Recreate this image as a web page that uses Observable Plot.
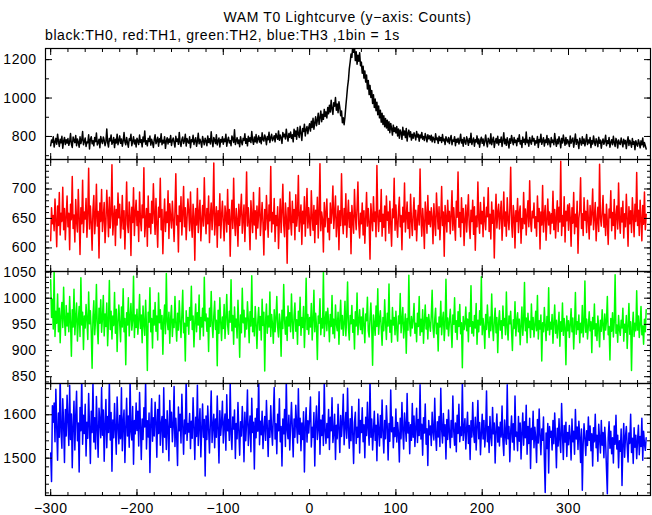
<!DOCTYPE html>
<html><head><meta charset="utf-8">
<script src="https://cdn.jsdelivr.net/npm/d3@7"></script>
<script src="https://cdn.jsdelivr.net/npm/@observablehq/plot@0.6"></script>
<style>
body{margin:0;background:#fff;}
#wrap{position:relative;width:652px;height:515px;overflow:hidden;font-family:"Liberation Sans",Arial,sans-serif;color:#000;}
#title{position:absolute;left:45px;width:605px;top:9px;text-align:center;font-size:14px;line-height:16px;letter-spacing:0.6px;white-space:nowrap;}
#sub{position:absolute;left:45px;top:27px;font-size:14px;line-height:16px;letter-spacing:0.6px;white-space:nowrap;}
</style></head><body>
<div id="wrap">
<div id="title">WAM T0 Lightcurve (y−axis: Counts)</div>
<div id="sub">black:TH0, red:TH1, green:TH2, blue:TH3 ,1bin = 1s</div>
</div>
<script>
// time bins: start -300 s, 1 s per bin
const tStart = -300;
const binSize = 1;

// TH0 (black) counts per 1 s bin
const th0 = [
752,781,769,798,745,771,790,760,812,774,748,785,767,801,739,776,795,758,783,766,
789,754,772,815,761,743,797,779,768,805,752,787,770,744,798,763,781,826,757,774,
792,748,771,767,809,735,784,799,762,778,751,794,773,818,756,769,786,741,800,775,
763,797,780,752,773,839,768,745,790,777,808,759,771,794,742,785,766,812,757,779,
803,764,787,749,776,820,771,757,795,768,744,788,779,811,752,773,798,761,782,745,
791,776,758,807,769,783,746,797,772,829,760,778,751,790,774,802,755,785,767,743,
784,809,762,775,796,749,788,771,814,757,780,766,799,738,776,793,761,787,770,805,
753,779,792,768,745,801,774,787,759,821,770,748,784,797,763,776,811,750,789,772,
765,798,741,783,772,806,758,779,793,749,775,817,762,786,770,744,800,777,757,791,
776,752,803,769,788,761,824,774,747,795,780,763,809,756,778,792,745,784,771,798,
760,787,773,812,749,781,796,766,778,752,803,788,769,835,758,777,794,763,782,747,
799,772,757,790,779,814,764,788,751,801,775,793,768,826,780,759,797,772,810,766,
788,803,771,795,762,819,784,776,808,791,757,800,783,822,769,794,811,778,789,804,
772,816,798,785,829,780,807,793,764,821,799,812,787,838,801,776,815,796,823,790,
809,772,838,801,829,786,847,812,795,853,818,779,841,826,864,803,837,852,814,846,
866,828,879,847,895,838,871,902,856,884,921,863,898,932,877,915,889,941,904,928,
896,951,918,963,927,989,942,915,976,958,1003,937,969,924,981,952,908,933,872,897,
861,902,958,1007,1058,1093,1152,1187,1229,1212,1270,1238,1266,1195,1241,1176,1223,1192,1236,1168,
1187,1129,1165,1104,1141,1083,1120,1047,1092,1018,1066,1003,1039,972,1017,951,995,934,978,913,
958,897,936,874,921,862,908,851,893,844,885,832,876,819,868,841,807,859,826,845,
818,852,803,839,791,834,821,785,848,807,829,794,842,776,817,833,798,824,781,811,
791,819,804,782,826,797,812,775,808,793,821,786,800,779,815,796,772,809,788,803,
781,806,772,797,788,768,814,783,792,764,801,779,795,769,810,777,786,758,799,782,
771,794,763,788,805,757,782,775,799,752,786,770,791,761,778,812,766,784,749,795,
773,760,798,781,754,789,768,817,758,777,792,749,783,771,803,762,787,744,779,796,
764,787,752,775,808,769,746,791,778,762,814,757,780,796,743,772,789,765,801,756,
783,770,797,748,778,819,762,786,754,793,771,740,788,765,805,779,757,794,768,781,
752,790,774,809,761,779,743,797,770,785,758,823,767,781,749,795,772,760,802,776,
789,755,778,766,800,743,784,771,812,759,776,793,750,782,768,805,757,788,773,746,
794,768,781,757,815,773,749,786,762,799,775,741,790,766,807,778,754,795,761,783,
770,748,802,765,779,792,744,776,813,759,784,769,737,791,772,755,798,763,787,751,
776,810,758,782,766,795,742,779,761,803,770,753,788,774,747,796,765,781,739,772,
787,759,774,806,752,778,763,795,744,769,783,757,801,767,748,790,775,740,782,764,
758,792,771,746,785,762,779,737,774,798,753,780,766,744,789,759,773,731,778,760,
749,783,765,741,777,757,792,745,768,752,735
];

// TH1 (red)
const th1 = [
612,668,641,655,629,683,647,602,671,638,694,622,659,645,703,631,667,614,652,688,
636,659,597,674,648,721,633,656,610,682,645,627,699,652,589,668,641,715,626,661,
649,684,618,657,735,632,671,643,596,665,689,624,651,708,637,662,583,676,645,699,
628,653,677,609,642,698,661,619,686,634,657,741,622,648,671,604,665,639,693,651,
674,617,645,689,632,663,598,651,712,640,626,678,655,587,669,643,702,621,659,681,
638,662,611,695,647,629,673,651,736,619,644,667,603,688,635,658,624,679,642,709,
657,623,684,640,601,669,652,718,631,665,590,647,683,628,661,643,697,616,675,652,
634,679,648,611,662,726,639,655,593,671,645,687,622,657,704,636,668,614,649,683,
661,629,695,642,618,674,653,579,667,639,701,626,658,681,612,646,672,637,719,655,
624,667,641,688,609,653,676,631,659,744,622,648,670,601,663,638,692,617,654,679,
643,612,671,655,627,699,640,665,586,652,681,633,718,646,621,667,648,603,674,638,
662,691,625,649,673,611,656,729,637,668,642,597,680,653,626,694,639,663,615,671,
634,659,702,621,648,677,642,588,665,631,689,652,618,673,646,738,627,660,641,684,
611,655,638,670,599,647,683,626,661,708,640,619,676,653,574,668,632,695,645,622,
679,643,665,614,690,637,656,723,628,651,673,606,662,641,687,620,657,701,634,668,
645,621,697,652,630,672,609,664,640,686,617,655,743,629,661,648,593,677,636,659,
683,627,650,614,676,642,661,705,633,658,688,619,644,671,597,663,638,726,651,624,
667,639,692,618,653,681,635,660,590,672,646,625,699,655,631,668,712,640,617,659,
641,676,622,663,608,650,694,637,667,643,581,675,652,629,687,645,661,619,740,653,
628,664,645,699,620,657,635,671,612,688,647,661,625,679,642,603,666,651,718,630,
673,641,618,662,686,636,655,597,669,644,710,627,652,678,633,660,617,691,648,621,
657,685,631,664,612,648,672,639,734,653,620,667,643,599,678,656,625,689,640,662,
636,668,652,607,675,644,621,693,659,632,670,614,647,704,638,661,586,672,650,627,
681,645,662,624,656,697,630,668,641,613,679,652,729,635,660,619,685,643,667,604,
649,673,627,658,690,639,616,664,645,681,623,670,596,654,636,712,648,625,677,641,
662,619,686,647,631,669,653,702,628,657,615,678,642,664,583,650,691,634,659,674,
632,657,679,613,648,695,637,661,620,685,649,631,667,737,642,618,672,655,600,663,
645,684,626,659,671,608,650,633,694,641,666,622,657,680,636,714,645,628,662,651,
676,634,653,620,688,645,667,598,661,639,706,627,655,672,613,647,683,639,661,624,
658,642,696,631,665,617,652,680,628,669,644,747,621,655,637,687,610,662,646,673,
630,675,651,603,668,642,694,624,657,636,679,591,650,664,719,633,658,621,685,647,
662,626,681,648,615,672,639,659,700,631,653,677,612,645,669,628,742,650,637,661,
689,635,657,621,674,643,606,666,651,697,629,660,638,682,615,655,671,632,710,647,
625,668,644,679,617,658,636,691,649,603,670,641,663,626,685,652,619,674,645,728,
638,664,621,681,649,612,672,640,695,631,657
];

// TH2 (green)
const th2 = [
1035,963,998,941,1052,927,975,952,1008,936,981,915,967,992,944,1021,958,929,986,947,
971,936,1003,954,889,978,945,1017,930,962,991,918,956,984,927,1039,949,973,902,966,
943,988,959,921,1012,951,976,937,866,964,995,930,958,1026,944,913,981,952,997,935,
962,1005,928,970,946,991,909,957,1034,940,975,922,966,948,1011,933,979,898,955,987,
950,917,983,945,1018,936,961,873,972,949,1001,928,964,990,939,957,1042,925,968,944,
979,931,958,1007,942,968,915,985,951,929,996,947,862,973,954,1020,936,961,905,977,
949,992,937,966,920,1010,953,978,941,967,893,959,987,932,1047,955,940,973,914,962,
986,927,960,944,1003,951,918,971,939,995,956,925,968,1015,934,952,880,976,947,963,
931,982,958,1023,940,966,907,954,989,936,972,949,1006,921,963,945,981,928,1040,957,
970,937,962,898,981,946,1013,952,925,966,994,940,958,871,977,933,1001,955,919,964,
942,988,923,961,1007,949,931,975,954,1035,938,967,912,983,945,960,924,996,951,887,
968,934,1019,953,977,926,962,941,993,958,915,974,947,1043,936,961,928,984,952,904,
957,982,939,965,920,998,948,973,861,956,989,933,966,945,1012,927,969,950,914,978,
936,961,1003,944,926,970,953,889,977,942,1026,958,931,964,919,985,947,972,936,1008,
954,923,966,991,937,959,912,975,948,1002,929,963,944,984,906,957,1038,940,969,931,
963,945,990,920,958,1015,936,971,947,883,966,952,999,930,961,943,1049,927,955,974,
938,981,955,917,969,946,1005,932,960,924,987,951,938,973,912,958,996,941,967,929,
952,994,928,962,1031,943,920,967,951,986,935,959,903,974,947,1010,930,956,978,940,
964,932,981,949,915,970,957,1002,938,926,961,991,944,872,968,951,929,985,946,1018,
931,959,976,944,910,963,938,997,952,921,971,947,1027,935,958,916,982,949,963,930,
975,942,918,966,951,1009,934,957,982,924,948,970,895,961,939,1044,952,928,965,943,
958,990,933,952,917,971,946,1003,929,960,936,978,914,955,987,941,963,922,969,950,
937,966,1015,943,925,959,981,932,952,899,964,945,994,930,958,973,919,948,1036,941,
962,928,955,979,944,906,968,950,1001,935,957,921,974,946,988,932,953,867,965,940,
951,983,938,960,917,972,946,1024,933,955,928,967,943,990,912,958,936,976,949,1041,
930,961,945,904,969,940,987,953,925,964,938,1008,947,919,958,981,934,963,896,952,
976,939,957,923,985,948,961,930,1012,944,920,966,951,975,937,900,959,942,993,928,
955,972,936,960,911,947,983,929,954,1030,938,962,915,971,944,956,925,989,940,963,
926,949,975,938,1005,922,957,941,968,880,953,936,982,947,919,965,939,1020,930,954,
941,969,914,952,987,933,958,924,946,973,908,955,937,991,929,961,944,873,966,938,
957,925,949,980,936,962,903,947,1011,931,955,940,968,915,952,934,986,926,948,1033,
935,960,922,947,974,938,955,896,963,941,989,928,951,919,966,943,907,958,937,978,
948,921,970,939,956,1003,930,946,882,961,937,972,926,954,1045,933,949,916,967,940,
929,958,943,981,918,950,935,967,904,946,990,931,955,862,944,973,927,952,938,1014,
939,966,925,951,984,930,947,912,960,936,978
];

// TH3 (blue)
const th3 = [
1512,1446,1621,1583,1627,1538,1659,1572,1495,1604,1548,1688,1561,1523,1637,1579,1490,1612,1551,1645,
1587,1529,1668,1543,1602,1478,1575,1631,1519,1596,1654,1540,1581,1468,1617,1563,1690,1532,1599,1557,
1624,1505,1583,1546,1649,1571,1488,1608,1559,1676,1537,1593,1521,1642,1568,1502,1615,1584,1547,1663,
1553,1611,1493,1578,1635,1524,1596,1559,1681,1542,1605,1470,1588,1547,1626,1563,1509,1641,1574,1533,
1598,1545,1662,1517,1583,1611,1490,1569,1638,1551,1597,1525,1684,1560,1542,1619,1486,1587,1556,1627,
1564,1608,1528,1651,1575,1497,1590,1543,1616,1572,1678,1521,1586,1549,1604,1467,1580,1637,1539,1593,
1551,1629,1583,1502,1612,1557,1645,1530,1578,1596,1513,1662,1548,1589,1520,1609,1566,1494,1633,1571,
1606,1538,1574,1665,1527,1592,1550,1483,1618,1563,1601,1535,1647,1576,1509,1588,1556,1686,1541,1580,
1560,1603,1522,1585,1546,1639,1571,1497,1594,1550,1668,1529,1577,1614,1503,1566,1625,1548,1589,1459,
1597,1543,1620,1567,1512,1581,1655,1536,1573,1601,1524,1590,1548,1643,1565,1489,1609,1553,1582,1631,
1535,1578,1602,1518,1646,1563,1589,1541,1674,1556,1520,1595,1567,1611,1499,1580,1545,1628,1562,1507,
1584,1551,1619,1573,1492,1606,1540,1581,1657,1529,1568,1597,1515,1638,1559,1583,1475,1592,1547,1614,
1562,1689,1531,1585,1554,1608,1522,1569,1596,1541,1633,1571,1504,1587,1548,1621,1566,1530,1598,1663,
1544,1579,1510,1601,1563,1637,1538,1573,1482,1590,1556,1612,1527,1681,1564,1545,1599,1519,1575,1628,
1569,1503,1590,1548,1622,1576,1535,1660,1555,1592,1517,1581,1543,1607,1468,1572,1616,1537,1586,1558,
1593,1641,1526,1571,1548,1605,1482,1579,1620,1543,1567,1653,1509,1588,1552,1599,1529,1675,1561,1534,
1580,1547,1612,1520,1594,1563,1639,1536,1558,1601,1497,1576,1545,1624,1568,1513,1598,1550,1583,1647,
1531,1572,1605,1546,1661,1565,1523,1591,1540,1619,1557,1488,1582,1606,1534,1571,1548,1636,1512,1587,
1559,1616,1538,1577,1501,1594,1552,1629,1567,1530,1683,1548,1590,1519,1563,1608,1541,1576,1494,1602,
1566,1528,1598,1547,1634,1558,1512,1587,1545,1621,1573,1496,1580,1539,1657,1561,1595,1524,1570,1550,
1613,1537,1582,1556,1491,1592,1545,1628,1563,1521,1604,1571,1539,1649,1558,1582,1510,1577,1541,1626,
1548,1597,1527,1570,1615,1536,1589,1552,1669,1544,1578,1507,1593,1558,1625,1532,1568,1483,1587,1554,
1574,1529,1606,1561,1542,1638,1555,1518,1584,1549,1596,1527,1661,1566,1535,1603,1551,1577,1498,1589,
1543,1611,1559,1524,1587,1548,1643,1563,1530,1581,1515,1599,1557,1624,1538,1572,1552,1676,1541,1566,
1591,1521,1568,1606,1534,1575,1497,1586,1549,1628,1560,1536,1594,1519,1571,1633,1545,1582,1508,1557,
1601,1544,1587,1526,1562,1655,1538,1573,1513,1596,1550,1529,1617,1556,1581,1489,1564,1602,1537,1572,
1528,1583,1549,1620,1541,1506,1588,1553,1532,1669,1545,1573,1492,1561,1597,1537,1579,1519,1643,1550,
1560,1517,1596,1539,1581,1498,1558,1604,1530,1584,1547,1622,1509,1573,1534,1592,1476,1569,1543,1608,
1524,1571,1546,1490,1589,1535,1613,1552,1508,1567,1541,1595,1498,1421,1558,1522,1580,1466,1573,1548,
1562,1519,1587,1533,1604,1547,1478,1569,1528,1591,1542,1513,1626,1556,1497,1575,1537,1583,1504,1559,
1531,1575,1547,1496,1590,1538,1562,1509,1612,1544,1572,1520,1585,1548,1490,1567,1426,1533,1579,1545,
1506,1563,1529,1595,1541,1574,1517,1556,1482,1570,1538,1601,1524,1553,1493,1578,1546,1512,1587,1530,
1559,1501,1571,1536,1475,1418,1548,1584,1523,1562,1510,1547,1489,1574,1532,1599,1521,1553,1478,1540,
1516,1567,1437,1531,1580,1502,1549,1573,1527,1491,1558,1534,1601,1513,1546,1488,1570,1525,1553,1499,
1541,1576,1508,1550,1527,1592,1495,1562,1533,1518,1547
];

// axis tick values
const xTicks = [-300, -200, -100, 0, 100, 200, 300];
const th0Ticks = [800, 1000, 1200];
const th1Ticks = [600, 650, 700];
const th2Ticks = [850, 900, 950, 1000, 1050];
const th3Ticks = [1500, 1600];

const xDomain = [-306, 395];
const panels = [
  {values: th0, color: "#000000", domain: [680, 1258], major: th0Ticks, minorStep: 100},
  {values: th1, color: "#ff0000", domain: [560, 750], major: th1Ticks, minorStep: 10},
  {values: th2, color: "#00ff00", domain: [837, 1051], major: th2Ticks, minorStep: 10},
  {values: th3, color: "#0000ff", domain: [1414, 1672], major: th3Ticks, minorStep: 20}
];
const frames = [[48, 159], [159, 271], [271, 383], [383, 495]];

const wrap = document.getElementById("wrap");
const blank = () => "";
const fmt = d3.format("d");
const xMinor = d3.range(-300, 395, 20);

panels.forEach((p, i) => {
  const last = i === panels.length - 1;
  const mt = 10, mb = last ? 20 : 10;
  const [f0, f1] = frames[i];
  const data = p.values.map((v, k) => ({t: tStart + k * binSize, v}));
  const yMinor = d3.range(Math.ceil(p.domain[0] / p.minorStep) * p.minorStep, p.domain[1], p.minorStep);
  const marks = [
    Plot.line(data, {x: "t", y: "v", stroke: p.color, strokeWidth: 1.5, clip: true}),
    Plot.axisY(yMinor, {anchor: "left", tickSize: -4, tickFormat: blank, label: null}),
    Plot.axisY(yMinor, {anchor: "right", tickSize: -4, tickFormat: blank, label: null}),
    Plot.axisY(p.major, {anchor: "left", tickSize: -7, tickFormat: blank, label: null}),
    Plot.axisY(p.major, {anchor: "right", tickSize: -7, tickFormat: blank, label: null}),
    Plot.axisX(xMinor, {anchor: "bottom", tickSize: -3, tickFormat: blank, label: null}),
    Plot.axisX(xMinor, {anchor: "top", tickSize: -3, tickFormat: blank, label: null}),
    Plot.axisX(xTicks, {anchor: "bottom", tickSize: -6, tickFormat: blank, label: null}),
    Plot.axisX(xTicks, {anchor: "top", tickSize: -6, tickFormat: blank, label: null}),
    Plot.axisY(p.major, {anchor: "left", tickSize: 0, tickPadding: 9, tickFormat: fmt, label: null}),
    Plot.frame({stroke: "#000", strokeWidth: 1.2})
  ];
  if (last) marks.push(Plot.axisX(xTicks, {anchor: "bottom", tickSize: 0, tickPadding: 8, tickFormat: fmt, label: null}));
  const svg = Plot.plot({
    width: 652,
    height: (f1 - f0) + mt + mb,
    marginLeft: 45, marginRight: 2, marginTop: mt, marginBottom: mb,
    x: {domain: xDomain, label: null},
    y: {domain: p.domain, label: null},
    style: {background: "transparent", fontFamily: "Liberation Sans, Arial, sans-serif", fontSize: "14px", letterSpacing: "0.5px", color: "#000", overflow: "visible"},
    marks
  });
  svg.style.position = "absolute";
  svg.style.left = "0px";
  svg.style.top = (f0 - mt) + "px";
  wrap.appendChild(svg);
});
</script>
</body></html>
